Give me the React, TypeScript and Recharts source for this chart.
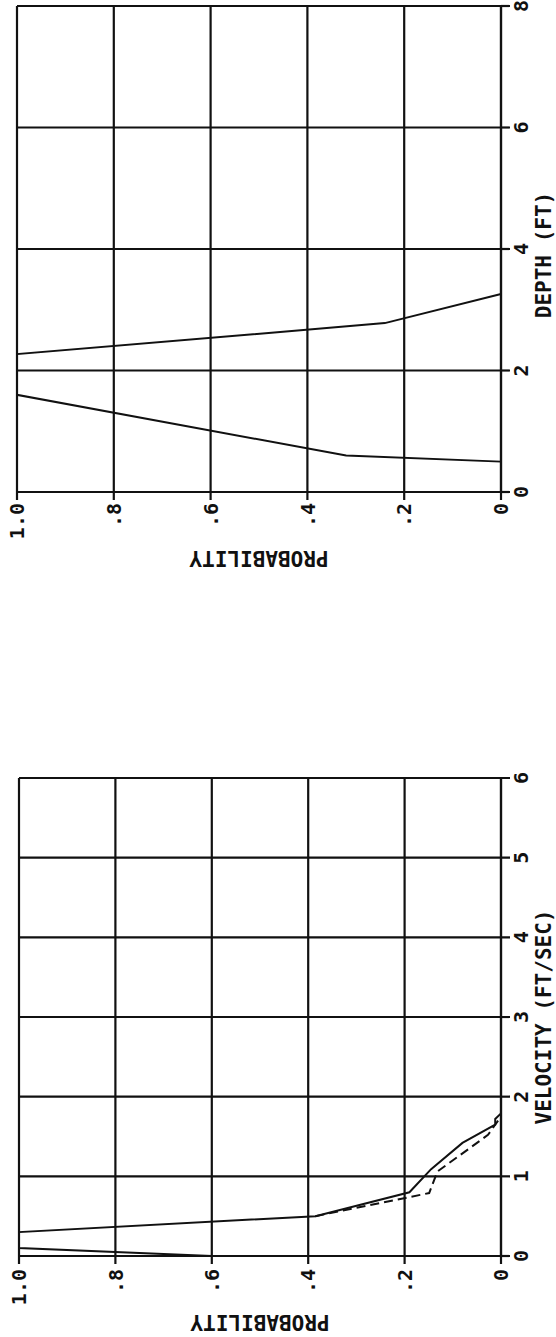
import { CartesianGrid, Line, LineChart, XAxis, YAxis } from 'recharts';

// depth suitability curve
const depthFt = [0.5, 0.6, 1.6, 2.27, 2.78, 3.26];
const depthProbability = [0, 0.32, 1.0, 1.0, 0.24, 0];

// velocity suitability curves (solid and dashed)
const velocitySolidFtSec = [0, 0.1, 0.3, 0.5, 0.8, 1.09, 1.42, 1.65, 1.72, 1.79];
const velocitySolidProbability = [0.6, 1.0, 1.0, 0.385, 0.19, 0.145, 0.08, 0.012, 0.012, 0];
const velocityDashedFtSec = [0.5, 0.79, 1.06, 1.52, 1.75];
const velocityDashedProbability = [0.385, 0.149, 0.132, 0.027, 0];

const probabilityTicks = [0, 0.2, 0.4, 0.6, 0.8, 1.0];
const depthTicks = [0, 2, 4, 6, 8];
const velocityTicks = [0, 1, 2, 3, 4, 5, 6];

const ink = '#111';
const font = '"DejaVu Sans Mono", "Liberation Mono", monospace';
const H = 556;

const toRows = (xs: number[], ps: number[]) => xs.map((x, i) => ({ x, p: ps[i] }));

const formatProbability = (v: number) => {
  if (v === 0) return '0';
  if (v === 1) return '1.0';
  return '.' + Math.round(v * 10);
};

interface Series {
  rows: { x: number; p: number }[];
  dashed?: boolean;
}

interface PanelProps {
  top: number;
  width: number;
  yAxisWidth: number;
  marginTop: number;
  marginRight: number;
  xMax: number;
  xTicks: number[];
  xTitle: string;
  xTitleX: number;
  yTitleX: number;
  yTickMargin: number;
  series: Series[];
}

function RotatedPanel(props: PanelProps) {
  const { top, width, yAxisWidth, marginTop, marginRight, xMax, xTicks, xTitle, xTitleX, yTitleX, yTickMargin, series } = props;
  const xAxisHeight = 55;
  const plotMidY = (marginTop + (H - xAxisHeight)) / 2;
  const tickStyle = { fill: ink, fontSize: 20, fontFamily: font, fontWeight: 'bold' };

  return (
    <div
      style={{
        position: 'absolute',
        left: 0,
        top,
        width,
        height: H,
        transformOrigin: '0 0',
        transform: `translate(0px, ${width}px) rotate(-90deg)`,
      }}
    >
      <LineChart width={width} height={H} margin={{ top: marginTop, right: marginRight, bottom: 0, left: 0 }}>
        <CartesianGrid stroke={ink} strokeWidth={2.2} />
        <XAxis
          type="number"
          dataKey="x"
          domain={[0, xMax]}
          ticks={xTicks}
          interval={0}
          height={xAxisHeight}
          tickSize={9}
          tickMargin={4}
          tick={tickStyle}
          axisLine={{ stroke: ink, strokeWidth: 2.2 }}
          tickLine={{ stroke: ink, strokeWidth: 2.2 }}
          label={() => (
            <text x={xTitleX} y={544} textAnchor="middle" dominantBaseline="central" fill={ink} fontSize={21} fontWeight="bold" fontFamily={font}>
              {xTitle}
            </text>
          )}
        />
        <YAxis
          type="number"
          domain={[0, 1]}
          ticks={probabilityTicks}
          interval={0}
          width={yAxisWidth}
          tickSize={8}
          tickMargin={yTickMargin}
          tickFormatter={formatProbability}
          tick={tickStyle}
          axisLine={{ stroke: ink, strokeWidth: 2.2 }}
          tickLine={{ stroke: ink, strokeWidth: 2.2 }}
          label={() => (
            <text
              x={yTitleX}
              y={plotMidY}
              transform={`rotate(-90, ${yTitleX}, ${plotMidY})`}
              textAnchor="middle"
              dominantBaseline="central"
              fill={ink}
              fontSize={21}
              fontWeight="bold"
              fontFamily={font}
            >
              PROBABILITY
            </text>
          )}
        />
        {series.map((s, i) => (
          <Line
            key={i}
            data={s.rows}
            dataKey="p"
            type="linear"
            stroke={ink}
            strokeWidth={2}
            strokeDasharray={s.dashed ? '9 5' : undefined}
            dot={false}
            activeDot={false}
            isAnimationActive={false}
          />
        ))}
      </LineChart>
    </div>
  );
}

export default function App() {
  return (
    <div style={{ position: 'absolute', left: 0, top: 0, width: 556, height: 1337, overflow: 'hidden', background: '#fff' }}>
      <RotatedPanel
        top={0}
        width={580}
        yAxisWidth={88}
        marginTop={17}
        marginRight={6}
        xMax={8}
        xTicks={depthTicks}
        xTitle="DEPTH (FT)"
        xTitleX={325}
        yTitleX={22}
        yTickMargin={3}
        series={[{ rows: toRows(depthFt, depthProbability) }]}
      />
      <RotatedPanel
        top={770}
        width={566}
        yAxisWidth={80}
        marginTop={19}
        marginRight={8}
        xMax={6}
        xTicks={velocityTicks}
        xTitle="VELOCITY (FT/SEC)"
        xTitleX={319}
        yTitleX={14}
        yTickMargin={5}
        series={[
          { rows: toRows(velocitySolidFtSec, velocitySolidProbability) },
          { rows: toRows(velocityDashedFtSec, velocityDashedProbability), dashed: true },
        ]}
      />
    </div>
  );
}
